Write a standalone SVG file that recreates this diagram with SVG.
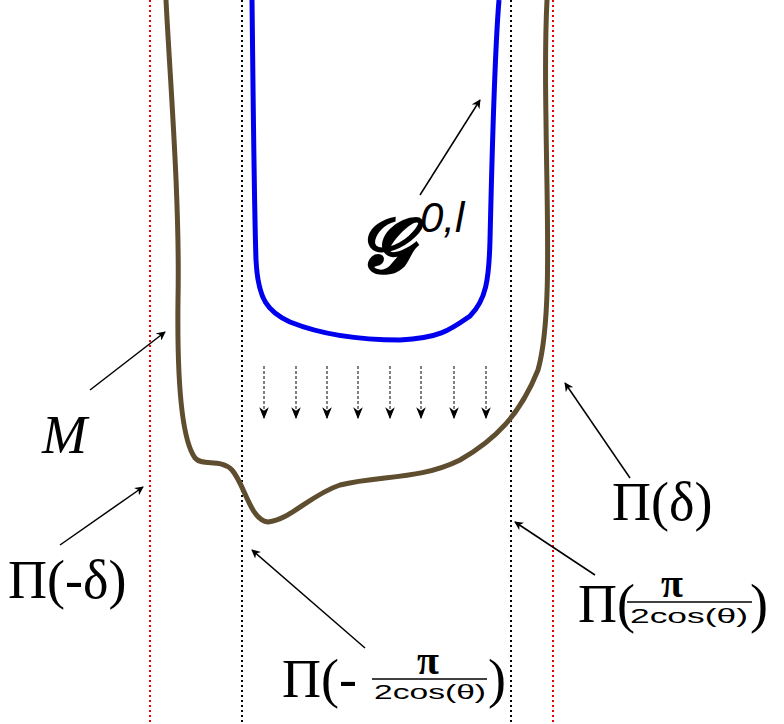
<svg xmlns="http://www.w3.org/2000/svg" width="784" height="724" viewBox="0 0 784 724">
<style>
.red{stroke:#e00;stroke-width:2;stroke-dasharray:2,3;fill:none}
.blk{stroke:#000;stroke-width:2;stroke-dasharray:2,3;fill:none}
.ar{stroke:#000;stroke-width:1.5;fill:none;marker-end:url(#a)}
.sm{stroke:#000;stroke-width:1;stroke-dasharray:3,2;fill:none;marker-end:url(#s)}
.t{font-family:"Liberation Serif",serif;fill:#000}
.f{font-family:"Liberation Sans",sans-serif;fill:#000}
</style>
<defs>
<marker id="a" viewBox="0 0 10 10" refX="9" refY="5" markerWidth="9" markerHeight="9" markerUnits="userSpaceOnUse" orient="auto"><path d="M0,0L10,5L0,10L3,5z" fill="#000"/></marker>
<marker id="s" viewBox="0 0 10 10" refX="9" refY="5" markerWidth="12" markerHeight="12" markerUnits="userSpaceOnUse" orient="auto"><path d="M0,1L10,5L0,9L3,5z" fill="#000"/></marker>
</defs>
<g id="lines">
<line class="red" x1="150" y1="0" x2="150" y2="724"/>
<line class="red" x1="553" y1="0" x2="553" y2="724"/>
<line class="blk" x1="242" y1="0" x2="242" y2="724"/>
<line class="blk" x1="511" y1="0" x2="511" y2="724"/>
</g>
<g id="M-curve"><path d="M166,0 C170,80 180,200 178,300 C177,380 182,440 195,458 C203,467 220,458 232,470 C245,485 250,520 268,522 C290,520 310,495 340,485 C380,475 420,480 460,460 C495,440 520,415 538,370 C552,320 547,220 546,120 C545,60 546,20 547,0" fill="none" stroke="#5e4d2f" stroke-width="5"/></g>
<g id="G-curve"><path d="M252,0 C253,80 254,200 256,260 C258,300 268,312 290,322 C320,334 360,340 400,340 C440,338 450,330 470,316 C486,300 489,280 490,240 C492,160 494,60 499,0" fill="none" stroke="#0000ee" stroke-width="5"/></g>
<g id="connectors">
<line class="ar" x1="420" y1="195" x2="480" y2="100"/>
<line class="ar" x1="90" y1="390" x2="165" y2="332"/>
<line class="ar" x1="630" y1="478" x2="565" y2="383"/>
<line class="ar" x1="60" y1="545" x2="143" y2="487"/>
<line class="ar" x1="595" y1="575" x2="515" y2="522"/>
<line class="ar" x1="365" y1="648" x2="252" y2="550"/>
<line class="sm" x1="264" y1="366" x2="264" y2="418"/>
<line class="sm" x1="296" y1="366" x2="296" y2="418"/>
<line class="sm" x1="327" y1="366" x2="327" y2="418"/>
<line class="sm" x1="358" y1="366" x2="358" y2="418"/>
<line class="sm" x1="390" y1="366" x2="390" y2="418"/>
<line class="sm" x1="421" y1="366" x2="421" y2="418"/>
<line class="sm" x1="454" y1="366" x2="454" y2="418"/>
<line class="sm" x1="486" y1="366" x2="486" y2="418"/>
</g>
<g id="labels">
<text class="t" x="358" y="272" font-size="76" font-style="italic" font-weight="bold">𝓖</text>
<text class="f" x="420" y="232" font-size="42" font-style="italic">0,l</text>
<text class="t" x="42" y="453" font-size="54" font-style="italic">M</text>
<text class="t" x="612" y="520" font-size="54">Π(δ)</text>
<text class="t" x="8" y="598" font-size="54">Π(-δ)</text>
<text class="t" x="578" y="622" font-size="54">Π(</text>
<text class="t" x="672" y="597" font-size="40" font-weight="bold" text-anchor="middle">π</text>
<line x1="627" y1="602" x2="752" y2="602" stroke="#000" stroke-width="1.5"/>
<text class="f" x="630" y="623" font-size="21" textLength="118" lengthAdjust="spacingAndGlyphs">2cos(θ)</text>
<text class="t" x="750" y="622" font-size="54">)</text>
<text class="t" x="282" y="697" font-size="54">Π(-</text>
<line x1="372" y1="679" x2="487" y2="679" stroke="#000" stroke-width="1.5"/>
<text class="t" x="428" y="674" font-size="40" font-weight="bold" text-anchor="middle">π</text>
<text class="f" x="374" y="699" font-size="21" textLength="112" lengthAdjust="spacingAndGlyphs">2cos(θ)</text>
<text class="t" x="488" y="697" font-size="54">)</text>
</g>
</svg>
